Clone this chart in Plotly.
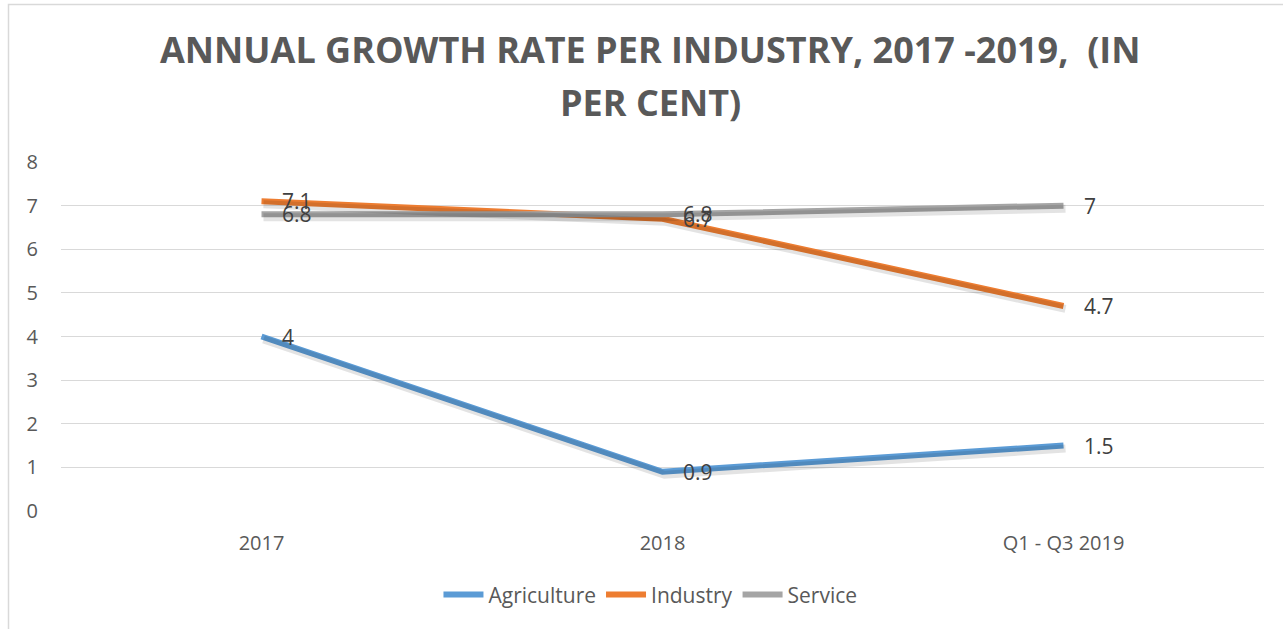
import plotly.graph_objects as go

categories = ["2017", "2018", "Q1 - Q3 2019"]
agriculture = [4, 0.9, 1.5]
industry = [7.1, 6.7, 4.7]
service = [6.8, 6.8, 7]
series_names = ["Agriculture", "Industry", "Service"]
series_values = [agriculture, industry, service]
series_colors = ["#5B9BD5", "#ED7D31", "#A5A5A5"]
y_ticks = [0, 1, 2, 3, 4, 5, 6, 7, 8]
title_lines = ["ANNUAL GROWTH RATE PER INDUSTRY, 2017 -2019,  (IN", "PER CENT)"]

fig = go.Figure()
xi = list(range(len(categories)))

# shadows (drawn on shifted overlay axes)
for vals in series_values:
    fig.add_trace(go.Scatter(x=xi, y=vals, mode="lines", xaxis="x2", yaxis="y2",
                             line=dict(color="rgba(0,0,0,0.11)", width=8),
                             showlegend=False, hoverinfo="skip"))

for name, vals, col in zip(series_names, series_values, series_colors):
    fig.add_trace(go.Scatter(x=xi, y=vals, mode="lines", name=name,
                             line=dict(color=col, width=6)))

# data labels
for name, vals in zip(series_names, series_values):
    for i, v in enumerate(vals):
        fig.add_annotation(x=i, y=v, text=str(v), showarrow=False, xanchor="left",
                           xshift=18, yshift=0,
                           font=dict(family="Open Sans", size=21, color="#404040"))

W, H = 1283, 629
L, R, T, B = 61, 19, 162, 118
pw, ph = W - L - R, H - T - B

# title lines
for txt, ypix in zip(title_lines, [50, 103]):
    fig.add_annotation(xref="paper", yref="paper", x=(650.5 - L) / pw,
                       y=(H - B - ypix) / ph, text=txt, showarrow=False,
                       xanchor="center", yanchor="middle",
                       font=dict(family="Open Sans", size=36, color="#595959", weight="bold"))

# shadow offset in data units
dx = 2 / pw * 3.0
dy = 3 / ph * 8.0

fig.update_layout(
    width=W, height=H,
    margin=dict(l=L, r=R, t=T, b=B),
    paper_bgcolor="white", plot_bgcolor="white",
    xaxis=dict(range=[-0.5, 2.5], tickmode="array", tickvals=xi, ticktext=categories,
               showgrid=False, zeroline=False, showline=False, ticks="",
               ticklabelstandoff=18,
               tickfont=dict(family="Open Sans", size=20, color="#595959")),
    yaxis=dict(range=[0, 8], tickmode="array", tickvals=y_ticks,
               ticktext=[str(t) for t in y_ticks],
               showgrid=True, gridcolor="#D9D9D9", gridwidth=1.3, zeroline=False,
               showline=False, ticks="", ticklabelstandoff=22,
               tickfont=dict(family="Open Sans", size=20, color="#595959")),
    xaxis2=dict(range=[-0.5 - dx, 2.5 - dx], overlaying="x", visible=False),
    yaxis2=dict(range=[0 + dy, 8 + dy], overlaying="y", visible=False),
    legend=dict(orientation="h", x=0.49, xanchor="center", y=-0.24, yanchor="middle",
                font=dict(family="Open Sans", size=21, color="#595959"),
                itemwidth=40, traceorder="normal"),
    shapes=[dict(type="rect", xref="paper", yref="paper",
                 x0=(8.5 - L) / pw, x1=1.2, y0=-0.6, y1=(H - B - 4.5) / ph,
                 line=dict(color="#D9D9D9", width=1.5), fillcolor="rgba(0,0,0,0)", layer="below")],
)

fig.write_html("out.html")
